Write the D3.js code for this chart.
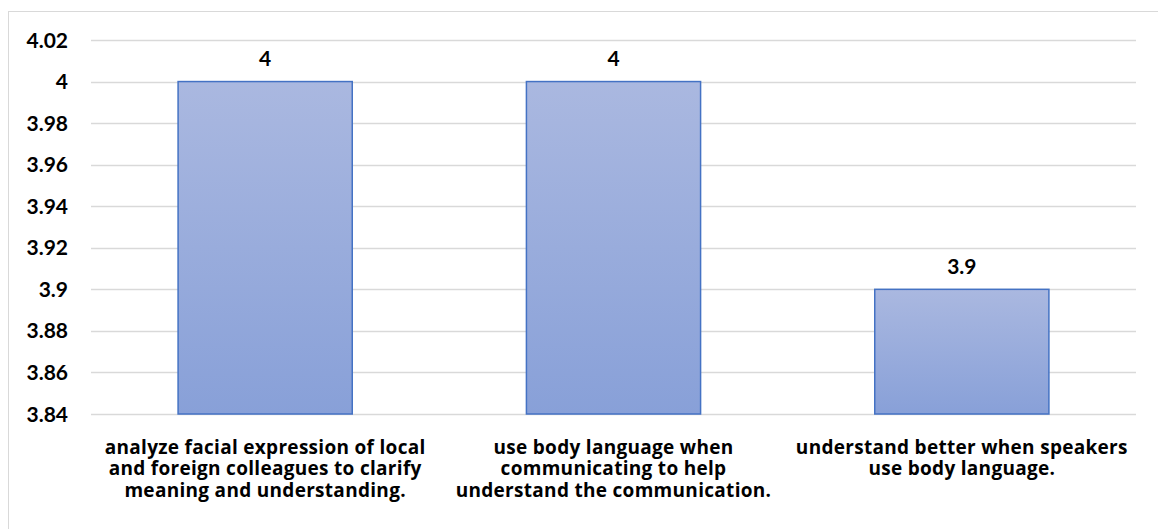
<!DOCTYPE html>
<html><head><meta charset="utf-8">
<script src="https://cdn.jsdelivr.net/npm/d3@7"></script>
<style>html,body{margin:0;padding:0;background:#fff;overflow:hidden}</style>
</head><body>
<svg id="c" width="1158" height="529"></svg>
<script>
const categories = [
  ["analyze facial expression of local", "and foreign colleagues to clarify", "meaning and understanding."],
  ["use body language when", "communicating to help", "understand the communication."],
  ["understand better when speakers", "use body language."]
];
const values = [4, 4, 3.9];
const valueLabels = ["4", "4", "3.9"];
const yTicks = [3.84, 3.86, 3.88, 3.9, 3.92, 3.94, 3.96, 3.98, 4, 4.02];

const svg = d3.select("#c");
const font = "Lato, 'Open Sans', sans-serif";
const xfont = "'Open Sans', Lato, sans-serif";
const m = {left: 91, right: 1136, top: 40, bottom: 414};

svg.append("rect").attr("x", 8.5).attr("y", 11.5).attr("width", 1160).attr("height", 530)
  .attr("fill", "#fff").attr("stroke", "#d9d9d9").attr("stroke-width", 1);

const defs = svg.append("defs");
const g = defs.append("linearGradient").attr("id", "bg").attr("x1", 0).attr("y1", 0).attr("x2", 0).attr("y2", 1);
g.append("stop").attr("offset", "0%").attr("stop-color", "#aab8e0");
g.append("stop").attr("offset", "100%").attr("stop-color", "#88a0d8");

const x = d3.scaleBand().domain(d3.range(values.length)).range([m.left, m.right]).paddingInner(0.5).paddingOuter(0.25);
const y = d3.scaleLinear().domain([3.84, 4.02]).range([m.bottom, m.top]);

svg.append("g").selectAll("line").data(yTicks).join("line")
  .attr("x1", m.left).attr("x2", m.right)
  .attr("y1", d => Math.round(y(d)) + 0.5).attr("y2", d => Math.round(y(d)) + 0.5)
  .attr("stroke", "#d9d9d9").attr("stroke-width", 1.5);

svg.append("g").selectAll("text").data(yTicks).join("text")
  .attr("x", 68).attr("y", d => y(d)).attr("dy", "0.36em")
  .attr("text-anchor", "end").attr("font-family", font).attr("font-weight", "bold")
  .attr("font-size", 21).attr("fill", "#000")
  .text(d => d3.format("")(+d.toFixed(2)));

svg.append("g").selectAll("rect").data(values).join("rect")
  .attr("x", (d, i) => x(i)).attr("width", x.bandwidth())
  .attr("y", d => y(d)).attr("height", d => y(3.84) - y(d))
  .attr("fill", "url(#bg)").attr("stroke", "#4472c4").attr("stroke-width", 1.5);

svg.append("g").selectAll("text").data(values).join("text")
  .attr("x", (d, i) => x(i) + x.bandwidth() / 2).attr("y", d => y(d) - 23).attr("dy", "0.36em")
  .attr("text-anchor", "middle").attr("font-family", font).attr("font-weight", "bold")
  .attr("font-size", 21).attr("fill", "#000")
  .text((d, i) => valueLabels[i]);

const xl = svg.append("g").selectAll("text").data(categories).join("text")
  .attr("text-anchor", "middle").attr("font-family", xfont).attr("font-weight", "bold")
  .attr("font-size", 19).attr("letter-spacing", "0.3px").attr("fill", "#000");
xl.each(function(lines, i) {
  d3.select(this).selectAll("tspan").data(lines).join("tspan")
    .attr("x", x(i) + x.bandwidth() / 2).attr("y", (l, j) => 453.5 + j * 21.7)
    .text(l => l);
});
</script>
</body></html>
